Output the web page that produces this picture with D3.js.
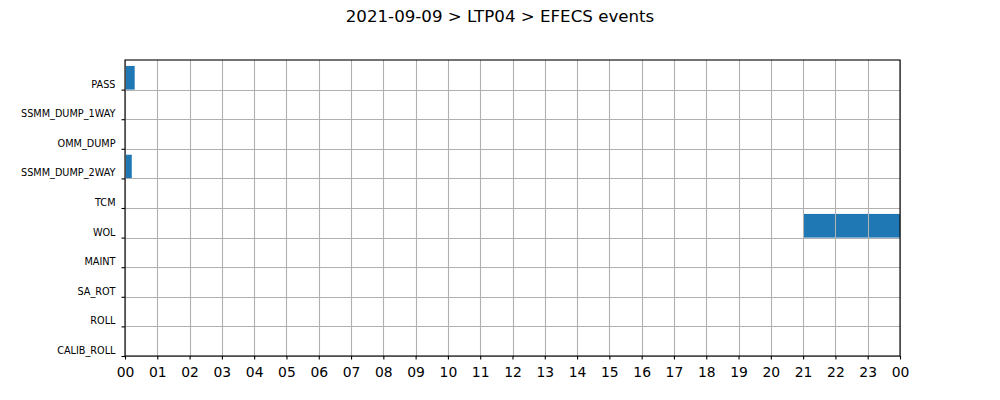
<!DOCTYPE html>
<html>
<head>
<meta charset="utf-8">
<script src="https://cdn.jsdelivr.net/npm/d3@7"></script>
<style>
  html, body { margin: 0; padding: 0; background: #fff; }
  svg { display: block; font-family: "DejaVu Sans", sans-serif; }
</style>
</head>
<body>
<svg id="chart" width="1000" height="400"></svg>
<script>
// Categories from bottom to top
const categories = ["CALIB_ROLL", "ROLL", "SA_ROT", "MAINT", "WOL", "TCM", "SSMM_DUMP_2WAY", "OMM_DUMP", "SSMM_DUMP_1WAY", "PASS"];
// Events (hours of day)
const eventCategory = ["PASS", "SSMM_DUMP_2WAY", "WOL"];
const eventStart = [0, 0, 21];
const eventEnd = [0.3, 0.21, 24];
// X tick labels (hours)
const hourTicks = [0,1,2,3,4,5,6,7,8,9,10,11,12,13,14,15,16,17,18,19,20,21,22,23,24];
const hourLabels = ["00","01","02","03","04","05","06","07","08","09","10","11","12","13","14","15","16","17","18","19","20","21","22","23","00"];
const title = "2021-09-09 > LTP04 > EFECS events";

(function () {
const svg = d3.select("#chart");
const mLeft = 125, mRight = 900, mTop = 60, mBottom = 356;

const x = d3.scaleLinear().domain([0, 24]).range([mLeft, mRight]);
const y = d3.scaleLinear().domain([0, categories.length]).range([mBottom, mTop]);

// Bars
const events = eventCategory.map((c, i) => ({ c, s: eventStart[i], e: eventEnd[i] }));
svg.append("g").selectAll("rect").data(events).join("rect")
  .attr("x", d => x(d.s))
  .attr("width", d => x(d.e) - x(d.s))
  .attr("y", d => y(categories.indexOf(d.c) + 0.8))
  .attr("height", d => y(categories.indexOf(d.c)) - y(categories.indexOf(d.c) + 0.8))
  .attr("fill", "#1f77b4");

// Gridlines (on top of bars)
const grid = svg.append("g").attr("stroke", "#b0b0b0").attr("stroke-width", 1.1);
grid.selectAll("line.v").data(hourTicks).join("line").attr("class", "v")
  .attr("x1", d => Math.round(x(d)) + 0.5).attr("x2", d => Math.round(x(d)) + 0.5)
  .attr("y1", mTop).attr("y2", mBottom);
grid.selectAll("line.h").data(d3.range(categories.length)).join("line").attr("class", "h")
  .attr("x1", mLeft).attr("x2", mRight)
  .attr("y1", d => Math.round(y(d)) + 0.5).attr("y2", d => Math.round(y(d)) + 0.5);

// Axes
const xAxis = d3.axisBottom(x).tickValues(hourTicks)
  .tickFormat((d, i) => hourLabels[i]).tickSize(3.5).tickPadding(7.5);
const gx = svg.append("g").attr("transform", `translate(0,${mBottom})`).call(xAxis);
gx.select(".domain").remove();
gx.selectAll("line").attr("stroke", "#000").attr("stroke-width", 1.1);
gx.selectAll("text").attr("font-size", "13.9px").attr("fill", "#000")
  .attr("font-family", "DejaVu Sans");

const yAxis = d3.axisLeft(y).tickValues(d3.range(categories.length))
  .tickFormat(d => categories[d]).tickSize(3.5).tickPadding(6);
const gy = svg.append("g").attr("transform", `translate(${mLeft},0)`).call(yAxis);
gy.select(".domain").remove();
gy.selectAll("line").attr("stroke", "#000").attr("stroke-width", 1.1);
gy.selectAll("text").attr("font-size", "9.7px").attr("fill", "#000")
  .attr("font-family", "DejaVu Sans").attr("dy", "-2.5px");

// Frame
svg.append("rect").attr("x", mLeft).attr("y", mTop)
  .attr("width", mRight - mLeft).attr("height", mBottom - mTop)
  .attr("fill", "none").attr("stroke", "#000").attr("stroke-width", 1.1);

// Title
svg.append("text").attr("x", 500).attr("y", 22)
  .attr("text-anchor", "middle").attr("font-size", "16.67px").attr("fill", "#000")
  .text(title);
})();
</script>
</body>
</html>
